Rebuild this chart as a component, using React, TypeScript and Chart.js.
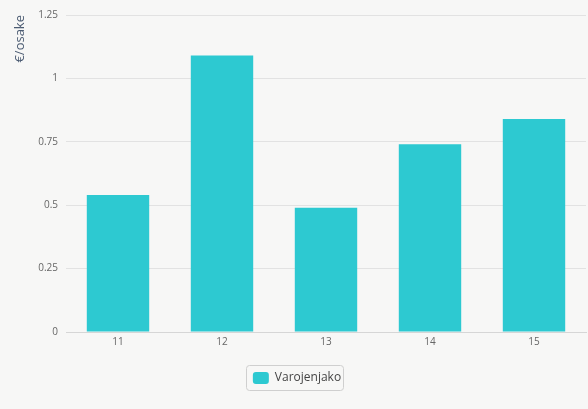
import React, { useEffect, useRef } from "react";
import { Chart, registerables } from "chart.js";

Chart.register(...registerables);

const categories = ["11", "12", "13", "14", "15"];
const values = [0.54, 1.09, 0.49, 0.74, 0.84];
const seriesName = "Varojenjako";
const yTitle = "€/osake";
const yMax = 1.25;
const yStep = 0.25;

const BAR = "#2dc9d1";

const bgPlugin = {
  id: "bg",
  beforeDraw(chart: any) {
    const ctx = chart.ctx;
    ctx.save();
    ctx.fillStyle = "#f7f7f6";
    ctx.fillRect(0, 0, chart.width, chart.height);
    ctx.restore();
  },
};

const legendBorder = {
  id: "legendBorder",
  afterDraw(chart: any) {
    const lg = chart.legend;
    if (!lg || !lg.legendHitBoxes || !lg.legendHitBoxes.length) return;
    const h = lg.legendHitBoxes[0];
    const ctx = chart.ctx;
    const x = h.left - 7, y = h.top - 7, w = h.width + 9, hh = h.height + 13;
    ctx.save();
    ctx.strokeStyle = "#cfcfcf";
    ctx.lineWidth = 1;
    ctx.beginPath();
    ctx.roundRect(Math.round(x) + 0.5, Math.round(y) + 0.5, Math.round(w), Math.round(hh), 3);
    ctx.stroke();
    ctx.restore();
  },
};

export default function App() {
  const ref = useRef<HTMLCanvasElement>(null);
  useEffect(() => {
    document.body.style.margin = "0";
    const chart = new Chart(ref.current!, {
      type: "bar",
      data: {
        labels: categories,
        datasets: [
          {
            label: seriesName,
            data: values,
            backgroundColor: BAR,
            borderWidth: 0,
            barPercentage: 0.6,
            categoryPercentage: 1,
          },
        ],
      },
      options: {
        animation: false,
        responsive: true,
        maintainAspectRatio: false,
        layout: { padding: { left: 8, right: 2, top: 15, bottom: 15 } },
        plugins: {
          legend: {
            position: "bottom",
            labels: {
              boxWidth: 16,
              boxHeight: 12,
              padding: 14,
              color: "#444",
              font: { family: "'Open Sans', sans-serif", size: 12 },
              useBorderRadius: true,
              borderRadius: 3,
            },
          },
          tooltip: { enabled: false },
        },
        scales: {
          x: {
            grid: { display: false, drawTicks: false },
            border: { display: true, color: "#d6d6d6" },
            afterFit(s: any) {
              s.height += 6;
            },
            ticks: {
              color: "#666",
              padding: 4,
              font: { family: "'Open Sans', sans-serif", size: 10 },
            },
          },
          y: {
            min: 0,
            max: yMax,
            afterFit(s: any) {
              s.width = 58;
            },
            ticks: {
              stepSize: yStep,
              color: "#666",
              padding: 8,
              font: { family: "'Open Sans', sans-serif", size: 10 },
              callback: (v: any) => String(v),
            },
            grid: { color: "#e2e2e2", drawTicks: false },
            border: { display: false },
            title: {
              display: true,
              text: yTitle,
              align: "end",
              color: "#4b5b72",
              font: { family: "'Open Sans', sans-serif", size: 13 },
              padding: { top: 4, bottom: 0 },
            },
          },
        },
      },
      plugins: [bgPlugin, legendBorder],
    });
    return () => chart.destroy();
  }, []);
  return (
    <div style={{ position: "fixed", left: 0, top: 0, width: 588, height: 409 }}>
      <canvas ref={ref} />
    </div>
  );
}
